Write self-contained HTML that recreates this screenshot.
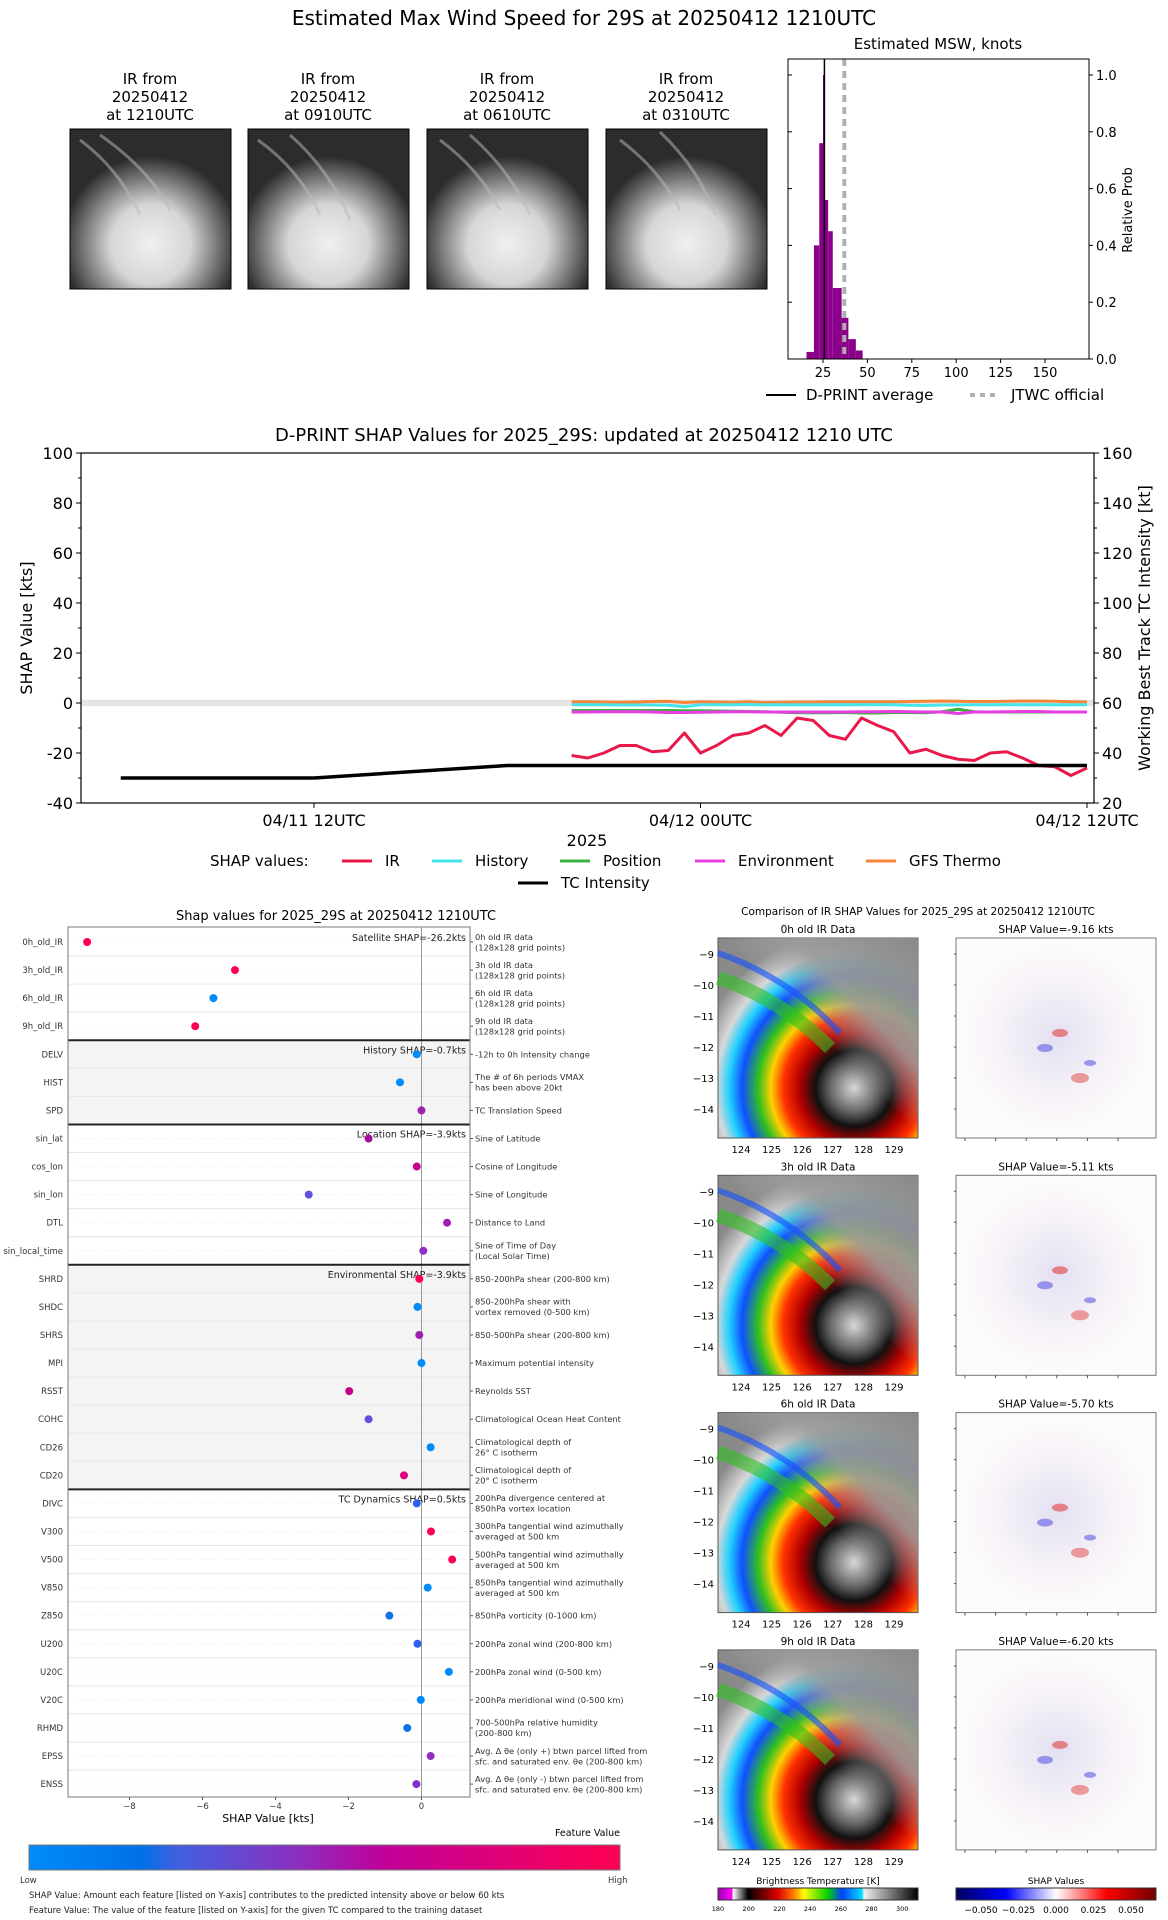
<!DOCTYPE html>
<html><head><meta charset="utf-8"><style>
html,body{margin:0;padding:0;background:#fff}
svg{display:block;font-family:"DejaVu Sans","Liberation Sans",sans-serif}
</style></head><body>
<svg id="root" width="1168" height="1920" viewBox="0 0 1168 1920" xmlns="http://www.w3.org/2000/svg">
<defs>
<radialGradient id="sat1" cx="0.5" cy="0.72" r="0.55"><stop offset="0" stop-color="#f0f0f0"/><stop offset="0.45" stop-color="#d6d6d6"/><stop offset="0.8" stop-color="#6a6a6a"/><stop offset="1" stop-color="#2c2c2c"/></radialGradient>
<radialGradient id="ir" cx="0.68" cy="0.75" r="0.8"><stop offset="0" stop-color="#d8d8d8"/><stop offset="0.15" stop-color="#666"/><stop offset="0.24" stop-color="#111"/><stop offset="0.34" stop-color="#b00000"/><stop offset="0.44" stop-color="#ff3000"/><stop offset="0.52" stop-color="#ffd000"/><stop offset="0.6" stop-color="#30c020"/><stop offset="0.7" stop-color="#1050ff"/><stop offset="0.78" stop-color="#20d0ff"/><stop offset="0.86" stop-color="#d8d8d8"/><stop offset="1" stop-color="#8a8a8a"/></radialGradient>
<linearGradient id="grayfade" x1="1" y1="0" x2="0.3" y2="0.7"><stop offset="0" stop-color="#8a8a8a" stop-opacity="1"/><stop offset="0.45" stop-color="#9a9a9a" stop-opacity="0.9"/><stop offset="0.7" stop-color="#aaa" stop-opacity="0"/></linearGradient>
<radialGradient id="shapg" cx="0.5" cy="0.5" r="0.5"><stop offset="0" stop-color="#e4e0f2"/><stop offset="0.6" stop-color="#f7f3f8"/><stop offset="1" stop-color="#fdfbfd"/></radialGradient>
<linearGradient id="fv" x1="0" x2="1"><stop offset="0" stop-color="#008bfb"/><stop offset="0.19" stop-color="#0070e8"/><stop offset="0.25" stop-color="#4060e0"/><stop offset="0.45" stop-color="#8a30c0"/><stop offset="0.6" stop-color="#c0009a"/><stop offset="1" stop-color="#ff0051"/></linearGradient>
<linearGradient id="btc" x1="0" x2="1"><stop offset="0" stop-color="#a000b0"/><stop offset="0.07" stop-color="#ff00ff"/><stop offset="0.075" stop-color="#fff"/><stop offset="0.15" stop-color="#000"/><stop offset="0.3" stop-color="#e00000"/><stop offset="0.38" stop-color="#ff8000"/><stop offset="0.43" stop-color="#ffff00"/><stop offset="0.55" stop-color="#00d000"/><stop offset="0.62" stop-color="#0040ff"/><stop offset="0.72" stop-color="#00e0ff"/><stop offset="0.73" stop-color="#f0f0f0"/><stop offset="1" stop-color="#000"/></linearGradient>
<linearGradient id="shc" x1="0" x2="1"><stop offset="0" stop-color="#000060"/><stop offset="0.25" stop-color="#0000ff"/><stop offset="0.5" stop-color="#ffffff"/><stop offset="0.75" stop-color="#ff0000"/><stop offset="1" stop-color="#700000"/></linearGradient>
</defs>

<text x="584" y="25" font-size="20" text-anchor="middle">Estimated Max Wind Speed for 29S at 20250412 1210UTC</text>

<g id="sats">
<g font-size="15" text-anchor="middle">
<text x="150" y="84">IR from</text><text x="150" y="102">20250412</text><text x="150" y="120">at 1210UTC</text>
<text x="328" y="84">IR from</text><text x="328" y="102">20250412</text><text x="328" y="120">at 0910UTC</text>
<text x="507" y="84">IR from</text><text x="507" y="102">20250412</text><text x="507" y="120">at 0610UTC</text>
<text x="686" y="84">IR from</text><text x="686" y="102">20250412</text><text x="686" y="120">at 0310UTC</text>
</g>
<rect x="70" y="129" width="161" height="160" fill="url(#sat1)" stroke="#000"/>
<rect x="248" y="129" width="161" height="160" fill="url(#sat1)" stroke="#000"/>
<rect x="427" y="129" width="161" height="160" fill="url(#sat1)" stroke="#000"/>
<rect x="606" y="129" width="161" height="160" fill="url(#sat1)" stroke="#000"/>
<g stroke="#bbb" stroke-width="3" opacity="0.5" fill="none">
<path d="M80 140 Q120 170 140 215"/><path d="M100 135 Q150 170 170 210"/><path d="M258 140 Q300 170 320 215"/><path d="M290 135 Q330 170 350 220"/>
<path d="M440 140 Q480 170 500 210"/><path d="M470 135 Q510 170 530 215"/><path d="M620 140 Q660 170 680 210"/><path d="M660 132 Q700 170 715 215"/>
</g>
</g>

<g id="hist"></g>
<g id="ts"></g>
<g id="dots"></g>
<g id="irp"></g>
</svg>
<script>
// ---------- histogram data ----------
const histEdges=[15.7,19.9,22.9,25,25.8,27.9,30.5,35.5,39.3,43.5,47.3];
const histProb=[0.025,0.4,0.76,1.0,0.56,0.45,0.25,0.145,0.07,0.03];
const histXTicks=[25,50,75,100,125,150];
const histYTicks=[0,0.2,0.4,0.6,0.8,1.0];
const dprintAvg=25.8;
const jtwcOfficial=37;
// ---------- timeseries data ----------
const irHours=[8,8.5,9,9.5,10,10.5,11,11.5,12,12.5,13,13.5,14,14.5,15,15.5,16,16.5,17,17.5,18,18.5,19,19.5,20,20.5,21,21.5,22,22.5,23,23.5,24];
const irShap=[-21,-22,-20,-17,-17,-19.5,-19,-12,-20,-17,-13,-12,-9,-13,-6,-7,-13,-14.5,-6,-9,-11.5,-20,-18.5,-21,-22.5,-23,-20,-19.5,-22,-25,-25.5,-29,-26];
const historyShap=[-0.7,-0.7,-0.7,-0.8,-0.8,-0.8,-0.9,-1.5,-0.7,-0.7,-0.7,-0.6,-0.7,-0.7,-0.7,-0.7,-0.7,-0.7,-0.7,-0.7,-0.7,-0.9,-1.0,-0.8,-0.8,-0.7,-0.7,-0.7,-0.7,-0.7,-0.7,-0.7,-0.7];
const positionShap=[-3,-3,-3,-3,-3,-3,-3,-3.1,-3.1,-3.2,-3.3,-3.4,-3.5,-3.7,-3.9,-3.9,-3.9,-3.8,-4.0,-4.0,-3.8,-3.8,-3.9,-3.5,-2.5,-3.5,-3.6,-3.6,-3.6,-3.6,-3.6,-3.6,-3.6];
const envShap=[-3.6,-3.6,-3.5,-3.5,-3.5,-3.6,-3.8,-3.8,-3.7,-3.6,-3.5,-3.5,-3.6,-3.6,-3.6,-3.6,-3.6,-3.6,-3.5,-3.5,-3.4,-3.5,-3.6,-3.6,-4.2,-3.6,-3.6,-3.5,-3.4,-3.4,-3.6,-3.6,-3.6];
const gfsShap=[0.5,0.5,0.4,0.3,0.4,0.6,0.7,0.2,0.5,0.4,0.3,0.5,0.2,0.3,0.4,0.4,0.5,0.5,0.5,0.5,0.5,0.6,0.7,0.8,0.7,0.6,0.6,0.7,0.8,0.8,0.7,0.5,0.4];
const tcHours=[-6,0,6,12,18,24];
const tcIntensity=[30,30,35,35,35,35];
const tsYTicks=[100,80,60,40,20,0,-20,-40];
const tsRYTicks=[160,140,120,100,80,60,40,20];
const tsXTickHours=[0,12,24];
const tsXTickLabels=["04/11 12UTC","04/12 00UTC","04/12 12UTC"];
// ---------- feature SHAP data ----------
const featNames=["0h_old_IR","3h_old_IR","6h_old_IR","9h_old_IR","DELV","HIST","SPD","sin_lat","cos_lon","sin_lon","DTL","sin_local_time","SHRD","SHDC","SHRS","MPI","RSST","COHC","CD26","CD20","DIVC","V300","V500","V850","Z850","U200","U20C","V20C","RHMD","EPSS","ENSS"];
const featShap=[-9.16,-5.11,-5.70,-6.20,-0.13,-0.59,0.0,-1.45,-0.13,-3.09,0.70,0.05,-0.06,-0.11,-0.06,0.0,-1.98,-1.45,0.25,-0.48,-0.13,0.26,0.84,0.17,-0.88,-0.11,0.75,-0.02,-0.39,0.25,-0.14];
const featColor=["#ff0051","#ff0051","#008bfb","#ff0051","#008bfb","#008bfb","#a020b0","#a0109a","#c8008c","#6050e0","#a020b0","#9030c8","#ff0051","#008bfb","#a020b0","#008bfb","#c8008c","#6050e0","#008bfb","#e0007a","#3060f0","#ff0051","#ff0051","#008bfb","#1070e8","#3060f0","#008bfb","#008bfb","#1070e8","#9030c0","#8030c8"];
const featDesc=[["0h old IR data","(128x128 grid points)"],["3h old IR data","(128x128 grid points)"],["6h old IR data","(128x128 grid points)"],["9h old IR data","(128x128 grid points)"],["-12h to 0h Intensity change"],["The # of 6h periods VMAX","has been above 20kt"],["TC Translation Speed"],["Sine of Latitude"],["Cosine of Longitude"],["Sine of Longitude"],["Distance to Land"],["Sine of Time of Day","(Local Solar Time)"],["850-200hPa shear (200-800 km)"],["850-200hPa shear with","vortex removed (0-500 km)"],["850-500hPa shear (200-800 km)"],["Maximum potential intensity"],["Reynolds SST"],["Climatological Ocean Heat Content"],["Climatological depth of","26° C isotherm"],["Climatological depth of","20° C isotherm"],["200hPa divergence centered at","850hPa vortex location"],["300hPa tangential wind azimuthally","averaged at 500 km"],["500hPa tangential wind azimuthally","averaged at 500 km"],["850hPa tangential wind azimuthally","averaged at 500 km"],["850hPa vorticity (0-1000 km)"],["200hPa zonal wind (200-800 km)"],["200hPa zonal wind (0-500 km)"],["200hPa meridional wind (0-500 km)"],["700-500hPa relative humidity","(200-800 km)"],["Avg. Δ θe (only +) btwn parcel lifted from","sfc. and saturated env. θe (200-800 km)"],["Avg. Δ θe (only -) btwn parcel lifted from","sfc. and saturated env. θe (200-800 km)"]];
const groupStarts=[0,4,7,12,20];
const groupLabels=["Satellite SHAP=-26.2kts","History SHAP=-0.7kts","Location SHAP=-3.9kts","Environmental SHAP=-3.9kts","TC Dynamics SHAP=0.5kts"];
const dotXTicks=[-8,-6,-4,-2,0];
const irPanelTitles=["0h old IR Data","3h old IR Data","6h old IR Data","9h old IR Data"];
const irPanelShap=["-9.16","-5.11","-5.70","-6.20"];

const NS="http://www.w3.org/2000/svg";
function mk(parent,tag,attrs,txt){const e=document.createElementNS(NS,tag);for(const k in attrs)e.setAttribute(k,attrs[k]);if(txt!==undefined)e.textContent=txt;parent.appendChild(e);return e;}

// ===== histogram =====
(function(){
 const g=document.getElementById('hist');
 const L=788,R=1089,T=59,B=359;
 const hx=k=>823+(k-25)*1.776, hy=p=>B-p*284;
 const t=mk(g,'text',{x:938,y:49,'font-size':15,'text-anchor':'middle'},'Estimated MSW, knots');
 
 
 for(let i=0;i<histProb.length;i++){
  const b=mk(g,'rect',{x:hx(histEdges[i]),y:hy(histProb[i]),width:hx(histEdges[i+1])-hx(histEdges[i]),height:B-hy(histProb[i]),fill:'#8b008b'});
  
  
 }
 const a=mk(g,'line',{x1:hx(dprintAvg),x2:hx(dprintAvg),y1:T,y2:B,stroke:'#000','stroke-width':1.5});
 
 
 const j=mk(g,'line',{x1:hx(jtwcOfficial),x2:hx(jtwcOfficial),y1:T,y2:B,stroke:'#b0b0b0','stroke-width':4,'stroke-dasharray':'7,5'});
 
 
 mk(g,'rect',{x:L,y:T,width:R-L,height:B-T,fill:'none',stroke:'#000'});
 histXTicks.forEach(v=>{mk(g,'line',{x1:hx(v),x2:hx(v),y1:B,y2:B+4,stroke:'#000'});mk(g,'text',{x:hx(v),y:B+18,'font-size':13,'text-anchor':'middle'},String(v));});
 histYTicks.forEach(v=>{mk(g,'line',{x1:R,x2:R+4,y1:hy(v),y2:hy(v),stroke:'#000'});mk(g,'line',{x1:L,x2:L+4,y1:hy(v),y2:hy(v),stroke:'#000'});mk(g,'text',{x:R+7,y:hy(v)+5,'font-size':13},v.toFixed(1));});
 mk(g,'text',{x:0,y:0,'font-size':13,'text-anchor':'middle',transform:'translate(1132,210) rotate(-90)'},'Relative Prob');
 const l1=mk(g,'g',{});
 
 
 mk(l1,'line',{x1:766,x2:796,y1:395,y2:395,stroke:'#000','stroke-width':2});
 mk(l1,'text',{x:806,y:400,'font-size':15},'D-PRINT average');
 const l2=mk(g,'g',{});
 
 
 mk(l2,'line',{x1:970,x2:1000,y1:395,y2:395,stroke:'#b0b0b0','stroke-width':4,'stroke-dasharray':'5,5'});
 mk(l2,'text',{x:1011,y:400,'font-size':15},'JTWC official');
})();

// ===== timeseries =====
(function(){
 const g=document.getElementById('ts');
 const L=81,R=1094,T=453,B=803;
 const tx=h=>314+h*(1087-314)/24, ty=v=>T+(100-v)*2.5, tyR=v=>ty(v-60);
 const t=mk(g,'text',{x:584,y:441,'font-size':18,'text-anchor':'middle'},'D-PRINT SHAP Values for 2025_29S: updated at 20250412 1210 UTC');
 
 
 mk(g,'rect',{x:L,y:ty(1.3),width:R-L,height:ty(-1.3)-ty(1.3),fill:'#e5e5e5'});
 function series(vals,color,name,w){
  const p=mk(g,'polyline',{points:irHours.map((h,i)=>tx(h)+','+ty(vals[i])).join(' '),fill:'none',stroke:color,'stroke-width':w||3,'stroke-linejoin':'round'});
  
  
 }
 series(gfsShap,'#f5863a','gfs-thermo-line');
 series(historyShap,'#46e5ec','history-line');
 series(positionShap,'#3cb043','position-line');
 series(envShap,'#e83de0','environment-line');
 series(irShap,'#e8184a','ir-line');
 const tc=mk(g,'polyline',{points:tcHours.map((h,i)=>tx(h)+','+tyR(tcIntensity[i])).join(' '),fill:'none',stroke:'#000','stroke-width':3.5});
 
 
 mk(g,'rect',{x:L,y:T,width:R-L,height:B-T,fill:'none',stroke:'#000','stroke-width':1.2});
 tsYTicks.forEach(v=>{mk(g,'line',{x1:L-5,x2:L,y1:ty(v),y2:ty(v),stroke:'#000'});mk(g,'text',{x:L-8,y:ty(v)+6,'font-size':16,'text-anchor':'end'},String(v));});
 for(let v=-30;v<100;v+=20)mk(g,'line',{x1:L-3,x2:L,y1:ty(v),y2:ty(v),stroke:'#000'});
 tsRYTicks.forEach(v=>{mk(g,'line',{x1:R,x2:R+5,y1:tyR(v),y2:tyR(v),stroke:'#000'});mk(g,'text',{x:R+8,y:tyR(v)+6,'font-size':16},String(v));});
 for(let v=30;v<160;v+=20)mk(g,'line',{x1:R,x2:R+3,y1:tyR(v),y2:tyR(v),stroke:'#000'});
 tsXTickHours.forEach((h,i)=>{mk(g,'line',{x1:tx(h),x2:tx(h),y1:B,y2:B+5,stroke:'#000'});mk(g,'text',{x:tx(h),y:B+23,'font-size':16,'text-anchor':'middle'},tsXTickLabels[i]);});
 mk(g,'text',{x:587,y:846,'font-size':16,'text-anchor':'middle'},'2025');
 mk(g,'text',{x:0,y:0,'font-size':16,'text-anchor':'middle',transform:'translate(32,628) rotate(-90)'},'SHAP Value [kts]');
 mk(g,'text',{x:0,y:0,'font-size':16,'text-anchor':'middle',transform:'translate(1150,628) rotate(-90)'},'Working Best Track TC Intensity [kt]');
 mk(g,'text',{x:210,y:866,'font-size':15},'SHAP values:');
 const items=[['IR','#e8184a',342],['History','#46e5ec',432],['Position','#3cb043',560],['Environment','#e83de0',695],['GFS Thermo','#f5863a',866]];
 items.forEach(it=>{const gg=mk(g,'g',{});
  
  
  mk(gg,'line',{x1:it[2],x2:it[2]+30,y1:861,y2:861,stroke:it[1],'stroke-width':3});
  mk(gg,'text',{x:it[2]+43,y:866,'font-size':15},it[0]);});
 const gl=mk(g,'g',{});
 
 
 mk(gl,'line',{x1:518,x2:548,y1:883,y2:883,stroke:'#000','stroke-width':3});
 mk(gl,'text',{x:561,y:888,'font-size':15},'TC Intensity');
})();

// ===== feature dot plot =====
(function(){
 const g=document.getElementById('dots');
 const L=68,R=470,T=927,B=1797,rh=28.07,y0=942;
 const dx=v=>421.5+v*36.5, dy=i=>y0+i*rh;
 const t=mk(g,'text',{x:336,y:920,'font-size':13,'text-anchor':'middle'},'Shap values for 2025_29S at 20250412 1210UTC');
 
 
 const bounds=groupStarts.concat([featNames.length]);
 for(let k=0;k<groupStarts.length;k++){
  const top=k===0?T:dy(bounds[k])-rh/2, bot=k===groupStarts.length-1?B:dy(bounds[k+1])-rh/2;
  mk(g,'rect',{x:L,y:top,width:R-L,height:bot-top,fill:(k%2===1)?'#f4f4f4':'#fff'});
 }
 for(let i=0;i<featNames.length-1;i++)mk(g,'line',{x1:L,x2:R,y1:dy(i)+rh/2,y2:dy(i)+rh/2,stroke:'#e6e6e6'});
 for(let i=0;i<featNames.length;i++)mk(g,'line',{x1:L,x2:R,y1:dy(i),y2:dy(i),stroke:'#eee','stroke-dasharray':'1,2'});
 mk(g,'line',{x1:dx(0),x2:dx(0),y1:T,y2:B,stroke:'#999'});
 for(let k=1;k<groupStarts.length;k++){const y=dy(groupStarts[k])-rh/2;mk(g,'line',{x1:L,x2:R,y1:y,y2:y,stroke:'#222','stroke-width':2});}
 groupStarts.forEach((s,k)=>mk(g,'text',{x:466,y:dy(s)-1,'font-size':9.5,'text-anchor':'end',fill:'#222'},groupLabels[k]));
 featNames.forEach((n,i)=>{
  mk(g,'text',{x:63,y:dy(i)+3,'font-size':8.5,'text-anchor':'end',fill:'#333'},n);
  mk(g,'line',{x1:R,x2:R+3,y1:dy(i),y2:dy(i),stroke:'#555'});
  const d=featDesc[i];
  d.forEach((s,j)=>mk(g,'text',{x:475,y:dy(i)+3+(j-(d.length-1)/2)*10.5,'font-size':8.3,fill:'#333'},s));
  const c=mk(g,'circle',{cx:dx(featShap[i]),cy:dy(i),r:4,fill:featColor[i]});
  
  
 });
 mk(g,'rect',{x:L,y:T,width:R-L,height:B-T,fill:'none',stroke:'#777'});
 dotXTicks.forEach(v=>{mk(g,'line',{x1:dx(v),x2:dx(v),y1:B,y2:B+3,stroke:'#555'});mk(g,'text',{x:dx(v),y:B+12,'font-size':8.5,'text-anchor':'middle',fill:'#333'},v===0?'0':'\u2212'+Math.abs(v));});
 mk(g,'text',{x:268,y:1822,'font-size':11,'text-anchor':'middle'},'SHAP Value [kts]');
 const cb=mk(g,'rect',{x:29,y:1845,width:591,height:25,fill:'url(#fv)',stroke:'#777'});
 
 
 mk(g,'text',{x:620,y:1836,'font-size':9.5,'text-anchor':'end'},'Feature Value');
 mk(g,'text',{x:20,y:1883,'font-size':8.5,fill:'#333'},'Low');
 mk(g,'text',{x:608,y:1883,'font-size':8.5,fill:'#333'},'High');
 mk(g,'text',{x:29,y:1898,'font-size':8.5,fill:'#222'},'SHAP Value: Amount each feature [listed on Y-axis] contributes to the predicted intensity above or below 60 kts');
 mk(g,'text',{x:29,y:1913,'font-size':8.5,fill:'#222'},'Feature Value: The value of the feature [listed on Y-axis] for the given TC compared to the training dataset');
})();

// ===== IR comparison panels =====
(function(){
 const g=document.getElementById('irp');
 const t=mk(g,'text',{x:918,y:915,'font-size':10.5,'text-anchor':'middle'},'Comparison of IR SHAP Values for 2025_29S at 20250412 1210UTC');
 
 
 const lats=[-9,-10,-11,-12,-13,-14];
 irPanelTitles.forEach((tt,i)=>{
  const y=938+i*237.3;
  mk(g,'text',{x:818,y:y-5,'font-size':10.5,'text-anchor':'middle'},tt);
  const a=mk(g,'rect',{x:718,y:y,width:200,height:200,fill:'url(#ir)',stroke:'#555'});
  
  
  mk(g,'rect',{x:718,y:y,width:200,height:200,fill:'url(#grayfade)'});
  mk(g,'path',{d:`M718 ${y+40} Q780 ${y+60} 830 ${y+110}`,stroke:'#30c020','stroke-width':14,fill:'none',opacity:0.6});
  mk(g,'path',{d:`M718 ${y+15} Q790 ${y+40} 840 ${y+95}`,stroke:'#1050ff','stroke-width':6,fill:'none',opacity:0.6});
  mk(g,'text',{x:1056,y:y-5,'font-size':10.5,'text-anchor':'middle'},'SHAP Value='+irPanelShap[i]+' kts');
  const b=mk(g,'rect',{x:956,y:y,width:200,height:200,fill:'url(#shapg)',stroke:'#777'});
  
  
  mk(g,'ellipse',{cx:1060,cy:y+95,rx:8,ry:4,fill:'#e04040',opacity:0.6});
  mk(g,'ellipse',{cx:1045,cy:y+110,rx:8,ry:4,fill:'#4040e0',opacity:0.5});
  mk(g,'ellipse',{cx:1080,cy:y+140,rx:9,ry:5,fill:'#e04040',opacity:0.5});
  mk(g,'ellipse',{cx:1090,cy:y+125,rx:6,ry:3,fill:'#4040e0',opacity:0.5});
  lats.forEach((la,k)=>{const yy=y+16+k*31;mk(g,'text',{x:714,y:yy+4,'font-size':10,'text-anchor':'end'},'\u2212'+Math.abs(la));mk(g,'line',{x1:954,x2:956,y1:yy,y2:yy,stroke:'#555'});});
  for(let k=0;k<6;k++){mk(g,'text',{x:741+k*30.6,y:y+215,'font-size':10,'text-anchor':'middle'},String(124+k));mk(g,'line',{x1:965+k*30.6,x2:965+k*30.6,y1:y+200,y2:y+203,stroke:'#555'});}
 });
 mk(g,'text',{x:818,y:1884,'font-size':9,'text-anchor':'middle'},'Brightness Temperature [K]');
 const c1=mk(g,'rect',{x:718,y:1888,width:200,height:12,fill:'url(#btc)',stroke:'#333'});
 
 
 [180,200,220,240,260,280,300].forEach((v,k)=>mk(g,'text',{x:718+k*30.7,y:1911,'font-size':6.5,'text-anchor':'middle'},String(v)));
 mk(g,'text',{x:1056,y:1884,'font-size':9,'text-anchor':'middle'},'SHAP Values');
 const c2=mk(g,'rect',{x:956,y:1888,width:200,height:12,fill:'url(#shc)',stroke:'#333'});
 
 
 ['\u22120.050','\u22120.025','0.000','0.025','0.050'].forEach((s,k)=>mk(g,'text',{x:981+k*37.5,y:1913,'font-size':9,'text-anchor':'middle'},s));
})();
</script>
</body></html>
